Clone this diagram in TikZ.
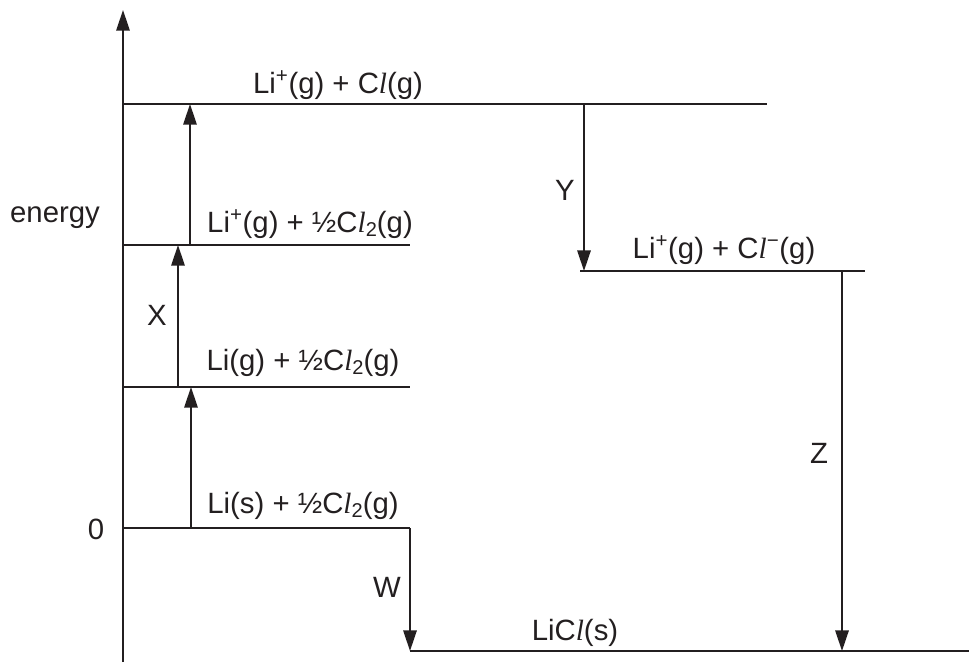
\documentclass[tikz,border=0pt]{standalone}
\usepackage{fontspec}
\setmainfont{Liberation Sans}
\newfontfamily\serifl{Liberation Serif}
\usetikzlibrary{arrows.meta}
\definecolor{ink}{HTML}{231F20}
\newcommand{\Cl}{C{\serifl\itshape l}}
\newcommand{\Lip}{Li\textsuperscript{+}}
\newcommand{\sub}[1]{\raisebox{-0.3ex}{\fontsize{15}{15}\selectfont #1}}

\begin{document}
\begin{tikzpicture}[
    x=0.75pt, y=-0.75pt,
    font=\fontsize{22}{26}\selectfont,
    et/.style={inner sep=0pt, anchor=base, text=ink},
    liv/.style={ink, line width=1.8pt},
    fr/.style={ink, line width=1.6pt, -{Triangle[length=15.5pt, width=10pt]}},
  ]
  \useasboundingbox (0,0) rectangle (969,662);

  % ---- asse dell'energia ----------------------------------------------------
  \coordinate (ax0) at (123,662);
  \coordinate (axE) at (123,10);
  \draw[fr] (ax0) -- (axE);

  % ---- livelli --------------------------------------------------------------
  \coordinate (lvT) at (123,104);   % Li+(g) + Cl(g)
  \coordinate (lvI) at (123,245);   % Li+(g) + 1/2 Cl2(g)
  \coordinate (lvG) at (123,387);   % Li(g) + 1/2 Cl2(g)
  \coordinate (lvS) at (123,528);   % Li(s) + 1/2 Cl2(g)
  \coordinate (lvN) at (580,271);   % Li+(g) + Cl-(g)
  \coordinate (lvL) at (410,651);   % LiCl(s)

  \draw[liv] (lvT) -- ++(644,0);
  \draw[liv] (lvI) -- ++(287,0);
  \draw[liv] (lvG) -- ++(287,0);
  \draw[liv] (lvS) -- ++(287,0);
  \draw[liv] (lvN) -- ++(285,0);
  \draw[liv] (lvL) -- ++(559,0);

  % ---- passaggi del ciclo ---------------------------------------------------
  \draw[fr] (191,0 |- lvS) -- (191,0 |- lvG);
  \draw[fr] (178,0 |- lvG) -- (178,0 |- lvI);
  \draw[fr] (190,0 |- lvI) -- (190,0 |- lvT);
  \draw[fr] (584,0 |- lvT) -- (584,0 |- lvN);
  \draw[fr] (842,0 |- lvN) -- (842,0 |- lvL);
  \draw[fr] (lvS -| lvL) -- (lvL);

  % ---- etichette ------------------------------------------------------------
  \node[et] (tT) at (338,93)  {\Lip(g) + \Cl(g)};
  \node[et] (tI) at (310,232) {\Lip(g) + ½\Cl\sub{2}(g)};
  \node[et] (tG) at (303,370) {Li(g) + ½\Cl\sub{2}(g)};
  \node[et] (tS) at (303,513) {Li(s) + ½\Cl\sub{2}(g)};
  \node[et] (tN) at (724,258) {\Lip(g) + \Cl\textsuperscript{−}(g)};
  \node[et] (tL) at (575,640) {Li\Cl(s)};

  \node[et] (en)   at (55,222)  {energy};
  \node[et] (zero) at (96,539)  {0};
  \node[et] (pX)   at (157,325) {X};
  \node[et] (pY)   at (565,200) {Y};
  \node[et] (pZ)   at (819,463) {Z};
  \node[et] (pW)   at (387,597) {W};

\end{tikzpicture}
\end{document}
